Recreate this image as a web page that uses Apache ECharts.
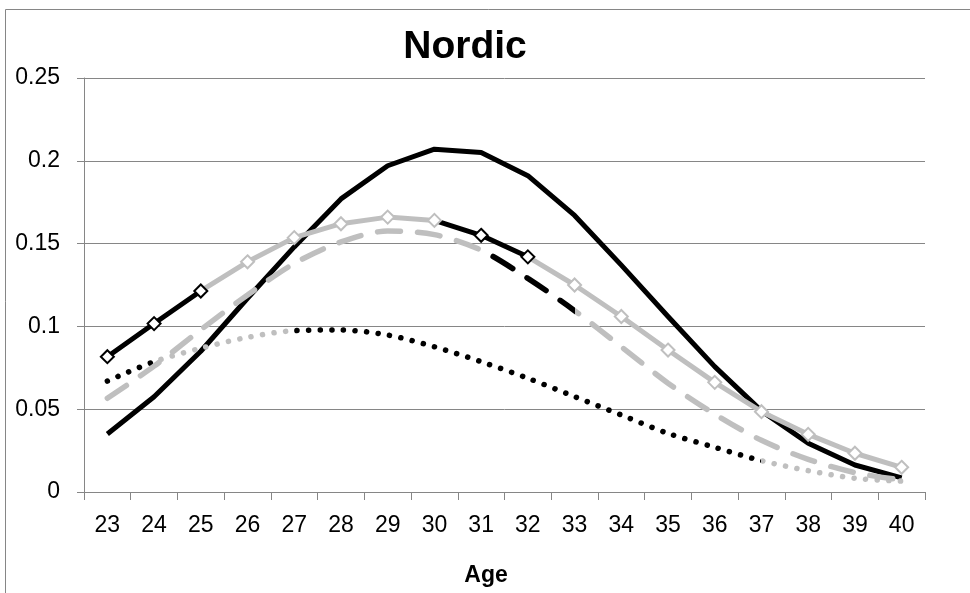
<!DOCTYPE html>
<html>
<head>
<meta charset="utf-8">
<style>
  html, body { margin: 0; padding: 0; background: #fff; }
  #chart { width: 970px; height: 593px; }
</style>
<script src="https://cdn.jsdelivr.net/npm/echarts@6/dist/echarts.min.js"></script>
</head>
<body>
<div id="chart"></div>
<script>
// ages on the category axis
const ages = ['23', '24', '25', '26', '27', '28', '29', '30', '31', '32', '33', '34', '35', '36', '37', '38', '39', '40']
const yTicks = [0, 0.05, 0.1, 0.15, 0.2, 0.25]

// series values
const solidLine = [0.035, 0.0575, 0.085, 0.117, 0.148, 0.177, 0.197, 0.207, 0.205, 0.191, 0.167, 0.137, 0.106, 0.0757, 0.049, 0.0295, 0.0163, 0.0085]
const diamondLine = [0.0817, 0.1017, 0.1214, 0.139, 0.1536, 0.162, 0.166, 0.164, 0.155, 0.142, 0.125, 0.106, 0.0857, 0.0662, 0.0485, 0.0348, 0.0234, 0.0149]
const dashedLine = [0.0566, 0.076, 0.098, 0.119, 0.138, 0.151, 0.1576, 0.1554, 0.146, 0.129, 0.1095, 0.0877, 0.0657, 0.047, 0.0312, 0.0197, 0.0117, 0.0072]
const dottedLine = [0.067, 0.0787, 0.0868, 0.0934, 0.0974, 0.0978, 0.0948, 0.0877, 0.0787, 0.0687, 0.0576, 0.0465, 0.0354, 0.027, 0.0189, 0.0129, 0.0083, 0.0066]

const BLACK = '#000000'
const GRAY = '#bfbfbf'
const AXIS = '#868686'
const FONT = '"Liberation Sans", Arial, sans-serif'

const dom = echarts.init(document.getElementById('chart'))

const option = {
  animation: false,
  backgroundColor: '#fff',
  grid: {
    left: 84,
    right: 45,
    top: 78,
    bottom: 101
  },
  graphic: [
    {
      type: 'rect',
      shape: { x: 5.5, y: 9.5, width: 1200, height: 1200 },
      style: { fill: null, stroke: AXIS, lineWidth: 1 },
      silent: true
    },
    {
      type: 'text',
      x: 465,
      y: 47.5,
      style: {
        text: 'Nordic',
        align: 'center',
        verticalAlign: 'middle',
        font: 'bold 39px ' + FONT,
        fill: BLACK
      }
    },
    {
      type: 'text',
      x: 486,
      y: 576,
      style: {
        text: 'Age',
        align: 'center',
        verticalAlign: 'middle',
        font: 'bold 23px ' + FONT,
        fill: BLACK
      }
    }
  ],
  xAxis: {
    type: 'category',
    boundaryGap: true,
    data: ages,
    axisLine: { show: true, lineStyle: { color: AXIS, width: 1 } },
    axisTick: { show: true, interval: 0, length: 8, lineStyle: { color: AXIS } },
    axisLabel: {
      interval: 0,
      margin: 22,
      color: BLACK,
      fontSize: 23,
      fontFamily: FONT
    },
    splitLine: { show: false }
  },
  yAxis: {
    type: 'value',
    min: yTicks[0],
    max: yTicks[yTicks.length - 1],
    interval: 0.05,
    axisLine: { show: true, lineStyle: { color: AXIS, width: 1 } },
    axisTick: { show: true, length: 7, lineStyle: { color: AXIS } },
    axisLabel: {
      margin: 24,
      color: BLACK,
      fontSize: 23,
      fontFamily: FONT
    },
    splitLine: { show: true, lineStyle: { color: AXIS, width: 1 } }
  },
  // black / gray sections of each line
  visualMap: [
    {
      show: false,
      seriesIndex: 1,
      dimension: 0,
      pieces: [
        { lte: 1, color: BLACK },
        { gt: 1, lte: 4, color: GRAY },
        { gt: 4, lte: 14, color: BLACK },
        { gt: 14, color: GRAY }
      ]
    },
    {
      show: false,
      seriesIndex: 2,
      dimension: 0,
      pieces: [
        { lte: 8, color: GRAY },
        { gt: 8, lte: 10, color: BLACK },
        { gt: 10, color: GRAY }
      ]
    },
    {
      show: false,
      seriesIndex: 3,
      dimension: 0,
      pieces: [
        { lte: 2, color: BLACK },
        { gt: 2, lte: 7, color: GRAY },
        { gt: 7, lte: 9, color: BLACK },
        { gt: 9, color: GRAY }
      ]
    }
  ],
  series: [
    {
      name: 'solid',
      type: 'line',
      data: solidLine,
      showSymbol: false,
      symbol: 'none',
      color: BLACK,
      lineStyle: { color: BLACK, width: 5, join: 'round' }
    },
    {
      name: 'dotted',
      type: 'line',
      data: dottedLine,
      smooth: 0.3,
      showSymbol: false,
      symbol: 'none',
      lineStyle: { width: 5.5, type: [0.1, 11.5], cap: 'round' }
    },
    {
      name: 'dashed',
      type: 'line',
      data: dashedLine,
      smooth: 0.3,
      showSymbol: false,
      symbol: 'none',
      lineStyle: { width: 5.5, type: [23, 17], cap: 'round' }
    },
    {
      name: 'diamond',
      type: 'line',
      data: diamondLine,
      symbol: 'emptyDiamond',
      symbolSize: 13,
      showSymbol: true,
      itemStyle: { borderWidth: 2 },
      lineStyle: { width: 5, join: 'round' }
    }
  ]
}

dom.setOption(option)
window.addEventListener('resize', () => dom.resize())
</script>
</body>
</html>
